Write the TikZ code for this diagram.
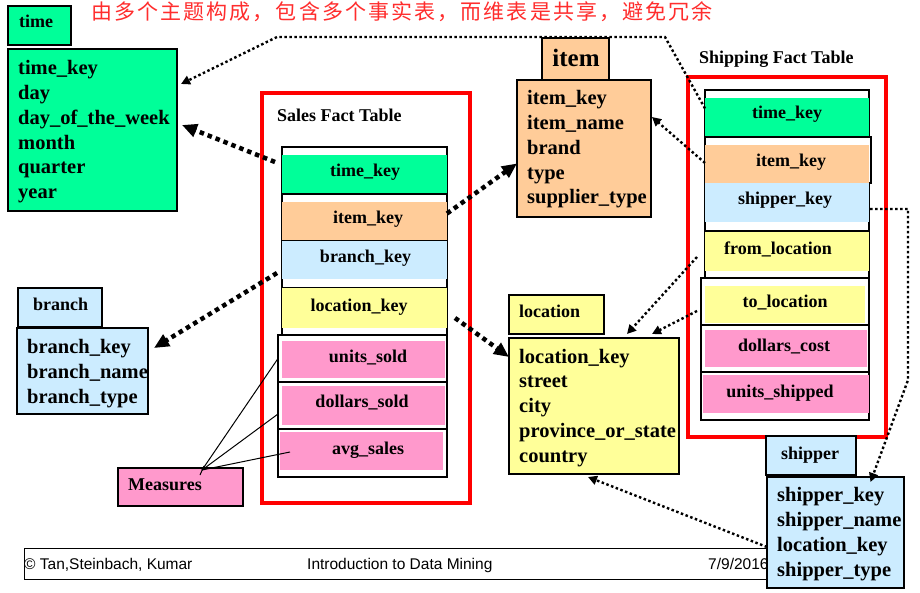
\documentclass[tikz,border=0pt]{standalone}
\usepackage{fontspec}
\setmainfont{Liberation Serif}
\newfontfamily\footfont{Liberation Sans}
\newfontfamily\cjk[LetterSpace=10]{Noto Sans CJK SC}
\usetikzlibrary{arrows.meta}
\definecolor{cgreen}{RGB}{0,255,153}
\definecolor{corange}{RGB}{255,204,153}
\definecolor{cblue}{RGB}{204,236,255}
\definecolor{cyellow}{RGB}{255,255,153}
\definecolor{cpink}{RGB}{255,153,204}
\definecolor{cred}{RGB}{255,0,0}
\definecolor{ctitle}{RGB}{255,45,45}
\begin{document}
\begin{tikzpicture}[x=1pt,y=-1pt,
  box/.style={draw=black, line width=1.3pt, inner sep=0, outer sep=0, anchor=north west},
  cell/.style={draw=black, line width=1.3pt, inner sep=0, outer sep=0, anchor=north west},
  cfill/.style={inner sep=0, outer sep=0, anchor=north west},
  redbox/.style={draw=cred, line width=4pt},
  hdr/.style={font=\fontsize{18}{20}\selectfont\bfseries, anchor=base west, inner sep=0},
  ctxt/.style={font=\fontsize{18}{20}\selectfont\bfseries, anchor=base, inner sep=0},
  btxt/.style={font=\fontsize{20.5}{24}\selectfont\bfseries, anchor=base west, inner sep=0},
  thickdot/.style={line width=4.5pt, dash pattern=on 4.5pt off 4pt, -{Triangle[length=15pt,width=13pt]}},
  thindot/.style={line width=2.4pt, dash pattern=on 2.5pt off 2.5pt, -{Triangle[length=9pt,width=9pt]}},
  measline/.style={line width=1pt, draw=black}
]
\useasboundingbox (0,0) rectangle (920,593);
\fill[white] (0,0) rectangle (920,593);

% title
\node[anchor=base west, inner sep=0, text=ctitle, font=\cjk\fontsize{21}{23}\selectfont] (title) at (91,20) {由多个主题构成，包含多个事实表，而维表是共享，避免冗余};

% ---------- time dimension
\node[box, fill=cgreen, minimum width=63pt, minimum height=39pt] (timeH) at (8,6) {};
\node[hdr] (timeHt) at (19,28) {time};
\node[box, fill=cgreen, minimum width=169pt, minimum height=162pt] (timeB) at (8,49) {};
\foreach \t [count=\i] in {time\_key, day, day\_of\_the\_week, month, quarter, year}
  \node[btxt] (timeT\i) at (18,{75+24.7*(\i-1)}) {\t};

% ---------- item dimension
\node[box, fill=corange, minimum width=67pt, minimum height=42pt] (itemH) at (542,38) {};
\node[anchor=base, inner sep=0, font=\fontsize{25}{27}\selectfont\bfseries] (itemHt) at (576,67) {item};
\node[box, fill=corange, minimum width=134pt, minimum height=137pt] (itemB) at (517,80) {};
\foreach \t [count=\i] in {item\_key, item\_name, brand, type, supplier\_type}
  \node[btxt] (itemT\i) at (527,{105+24.75*(\i-1)}) {\t};

% ---------- branch dimension
\node[box, fill=cblue, minimum width=84pt, minimum height=39pt] (branchH) at (18,288) {};
\node[hdr] (branchHt) at (33,310) {branch};
\node[box, fill=cblue, minimum width=131pt, minimum height=86pt] (branchB) at (17,328) {};
\foreach \t [count=\i] in {branch\_key, branch\_name, branch\_type}
  \node[btxt] (branchT\i) at (27,{353+25*(\i-1)}) {\t};

% ---------- location dimension
\node[box, fill=cyellow, minimum width=95pt, minimum height=39pt] (locH) at (509,295) {};
\node[hdr] (locHt) at (519,317) {location};
\node[box, fill=cyellow, minimum width=170pt, minimum height=136pt] (locB) at (509,338) {};
\foreach \t [count=\i] in {location\_key, street, city, province\_or\_state, country}
  \node[btxt] (locT\i) at (519,{363+24.8*(\i-1)}) {\t};

% ---------- measures
\node[box, fill=cpink, minimum width=125pt, minimum height=38pt] (meas) at (118,468) {};
\node[hdr] (measT) at (128,490) {Measures};

% ---------- Sales fact table
\node[redbox, inner sep=0, outer sep=0, anchor=north west, minimum width=208pt, minimum height=410pt] (salesR) at (262,93) {};
\node[hdr] (salesT) at (277,122) {Sales Fact Table};
\node[cell, minimum width=165pt, minimum height=47pt] (sc1) at (282,147) {};
\node[cell, minimum width=165pt, minimum height=47pt] (sc2) at (282,194) {};
\node[cell, minimum width=165pt, minimum height=47pt] (sc3) at (282,241) {};
\node[cell, minimum width=165pt, minimum height=47pt] (sc4) at (282,288) {};
\node[cell, minimum width=169pt, minimum height=47pt] (sc5) at (278,335) {};
\node[cell, minimum width=169pt, minimum height=47pt] (sc6) at (278,382) {};
\node[cell, minimum width=169pt, minimum height=48pt] (sc7) at (278,429) {};
\node[cfill, fill=cgreen, minimum width=165pt, minimum height=38pt] (sf1) at (282,155) {};
\node[cfill, fill=corange, minimum width=165pt, minimum height=38pt] (sf2) at (282,202) {};
\node[cfill, fill=cblue, minimum width=165pt, minimum height=38pt] (sf3) at (282,241) {};
\node[cfill, fill=cyellow, minimum width=165pt, minimum height=40pt] (sf4) at (282,288) {};
\node[cfill, fill=cpink, minimum width=163pt, minimum height=37pt] (sf5) at (282,341) {};
\node[cfill, fill=cpink, minimum width=163pt, minimum height=39pt] (sf6) at (282,386) {};
\node[cfill, fill=cpink, minimum width=163pt, minimum height=38pt] (sf7) at (280,432) {};
\node[ctxt] (st1) at (365,177) {time\_key};
\node[ctxt] (st2) at (368,224) {item\_key};
\node[ctxt] (st3) at (365.5,263) {branch\_key};
\node[ctxt] (st4) at (359,312) {location\_key};
\node[ctxt] (st5) at (368,362) {units\_sold};
\node[ctxt] (st6) at (362,407) {dollars\_sold};
\node[ctxt] (st7) at (368,454) {avg\_sales};

% ---------- Shipping fact table
\node[hdr] (shipT) at (699,64) {Shipping Fact Table};
\node[redbox, inner sep=0, outer sep=0, anchor=north west, minimum width=198pt, minimum height=360pt] (shipR) at (688,77) {};
\node[cell, minimum width=164pt, minimum height=47pt] (hc1) at (705,90) {};
\node[cell, minimum width=166pt, minimum height=46pt] (hc2) at (705,137) {};
\node[cell, minimum width=164pt, minimum height=48pt] (hc3) at (705,183) {};
\node[cell, minimum width=164pt, minimum height=47pt] (hc4) at (705,231) {};
\node[cell, minimum width=168pt, minimum height=47pt] (hc5) at (701,278) {};
\node[cell, minimum width=168pt, minimum height=47pt] (hc6) at (701,325) {};
\node[cell, minimum width=168pt, minimum height=48pt] (hc7) at (701,372) {};
\node[cfill, fill=cgreen, minimum width=164pt, minimum height=38pt] (hf1) at (705,98) {};
\node[cfill, fill=corange, minimum width=164pt, minimum height=38pt] (hf2) at (705,145) {};
\node[cfill, fill=cblue, minimum width=164pt, minimum height=39pt] (hf3) at (705,183) {};
\node[cfill, fill=cyellow, minimum width=164pt, minimum height=39pt] (hf4) at (705,232) {};
\node[cfill, fill=cyellow, minimum width=160pt, minimum height=37pt] (hf5) at (705,286) {};
\node[cfill, fill=cpink, minimum width=162pt, minimum height=37pt] (hf6) at (705,330) {};
\node[cfill, fill=cpink, minimum width=166pt, minimum height=38pt] (hf7) at (703,375) {};
\node[ctxt] (ht1) at (787,119) {time\_key};
\node[ctxt] (ht2) at (791,167) {item\_key};
\node[ctxt] (ht3) at (785,205) {shipper\_key};
\node[ctxt] (ht4) at (778,255) {from\_location};
\node[ctxt] (ht5) at (785,308) {to\_location};
\node[ctxt] (ht6) at (784,351) {dollars\_cost};
\node[ctxt] (ht7) at (780,397) {units\_shipped};

% ---------- footer
\node[box, minimum width=856pt, minimum height=31pt, line width=1pt] (foot) at (24,548) {};
\node[anchor=base west, inner sep=0, font=\footfont\fontsize{15.5}{17}\selectfont] (footA) at (24,569) {© Tan,Steinbach, Kumar};
\node[anchor=base west, inner sep=0, font=\footfont\fontsize{15.5}{17}\selectfont] (footB) at (307,569) {Introduction to Data Mining};
\node[anchor=base west, inner sep=0, font=\footfont\fontsize{15.5}{17}\selectfont] (footC) at (708,569) {7/9/2016};

% ---------- shipper dimension
\node[box, fill=cblue, minimum width=90pt, minimum height=39pt] (shipH) at (766,436) {};
\node[hdr] (shipHt) at (781,459) {shipper};
\node[box, fill=cblue, minimum width=137pt, minimum height=111pt] (shipB) at (767,477) {};
\foreach \t [count=\i] in {shipper\_key, shipper\_name, location\_key, shipper\_type}
  \node[btxt] (shipT\i) at (777,{501+25*(\i-1)}) {\t};

% ---------- measures lines
\coordinate (mP) at ([shift={(21.5,2)}]meas.north);
\draw[measline] (mP) -- (sc5.west);
\draw[measline] (mP) -- ([shift={(0,8.5)}]sc6.west);
\draw[measline] (mP) -- ([shift={(10,1)}]sf7.west);
\draw[measline] ([shift={(-2,5)}]mP) -- ([shift={(2,-4)}]mP);

% ---------- connectors
\draw[thickdot] ([shift={(-7,-8.5)}]sc1.west) -- ([shift={(5,-5)}]timeB.east);
\coordinate (tkA) at (665,37);
\coordinate (tkB) at (277,37);
\draw[thindot] ([shift={(0,-5)}]hc1.west) -- (tkA) -- (tkB) -- ([shift={(4,35)}]timeB.north east);
\draw[thickdot] ([shift={(0,-4)}]sc2.east) -- ([shift={(0,15)}]itemB.west);
\draw[thindot] ([shift={(0,3)}]hc2.west) -- ([shift={(1,-31.5)}]itemB.east);
\draw[thickdot] ([shift={(-5,8.5)}]sc3.west) -- ([shift={(6,20)}]branchB.north east);
\draw[thickdot] ([shift={(8,6.5)}]sc4.east) -- ([shift={(0,19)}]locB.north west);
\draw[thindot] ([shift={(-8,2.5)}]hc4.west) -- ([shift={(33,-4)}]locB.north);
\draw[thindot] ([shift={(-4,9.5)}]hc5.west) -- ([shift={(58,-4)}]locB.north);
\coordinate (skA) at (908,209);
\coordinate (skB) at (908,380);
\draw[thindot] ([shift={(1,2)}]hc3.east) -- (skA) -- (skB) -- ([shift={(35,5)}]shipB.north);
\draw[thindot] ([shift={(0,14.5)}]shipB.west) -- ([shift={(-6,3)}]locB.south);
\end{tikzpicture}
\end{document}
